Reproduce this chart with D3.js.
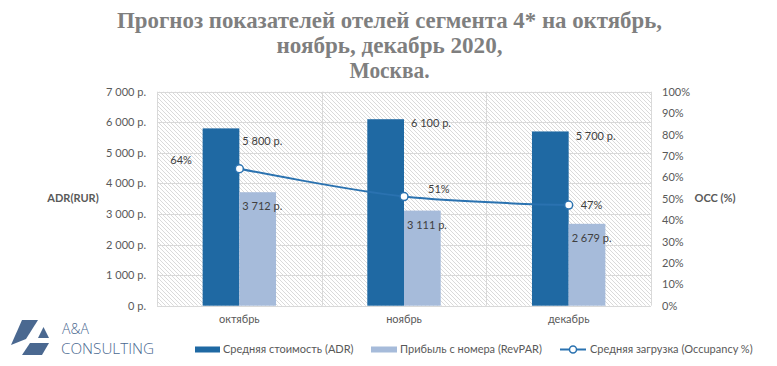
<!DOCTYPE html>
<html><head><meta charset="utf-8">
<script src="https://cdn.jsdelivr.net/npm/d3@7"></script>
<style>
html,body{margin:0;padding:0;background:#fff;}
svg text{font-family:Lato,"Open Sans",sans-serif;}
</style></head>
<body>
<svg id="chart" width="777" height="366"></svg>
<script>
const categories = ["октябрь", "ноябрь", "декабрь"];
const adrValues = [5800, 6100, 5700];
const revparValues = [3712, 3111, 2679];
const occValues = [0.64, 0.51, 0.47];
const leftTicks = [0, 1000, 2000, 3000, 4000, 5000, 6000, 7000];
const rightTicks = [0, 0.1, 0.2, 0.3, 0.4, 0.5, 0.6, 0.7, 0.8, 0.9, 1.0];
const seriesNames = ["Средняя стоимость (ADR)", "Прибыль с номера (RevPAR)", "Средняя загрузка (Occupancy %)"];
const titleLines = ["Прогноз показателей отелей сегмента 4* на октябрь,", "ноябрь, декабрь 2020,", "Москва."];

const C = {adr:"#1f69a3", rev:"#a6bbda", line:"#2a72b0", grid:"#d9d9d9", text:"#595959", title:"#7f7f7f", logo:"#4a6890"};
const plot = {l:157, r:651, t:91.7, b:305.7};

const svg = d3.select("#chart");
const defs = svg.append("defs");
const pat = defs.append("pattern").attr("id","hatch").attr("patternUnits","userSpaceOnUse")
  .attr("width",4).attr("height",4);
pat.append("path").attr("d","M0,0L4,4M-1,3L1,5M3,-1L5,1").attr("stroke","#d6d6d6").attr("stroke-width",0.9);

// Title
const titleW = [545, 226, 80];
const titleY = [28, 53, 78];
titleLines.forEach((t,i)=>{
  svg.append("text").attr("x",389.5).attr("y",titleY[i]).attr("text-anchor","middle")
    .style("font-family","'Liberation Serif','DejaVu Serif',serif").style("font-weight","bold")
    .style("font-size","24px").attr("fill",C.title)
    .attr("textLength",titleW[i]).attr("lengthAdjust","spacingAndGlyphs").text(t);
});

const x = d3.scaleBand().domain(categories).range([plot.l, plot.r]).padding(0);
const inner = d3.scaleBand().domain(["adr","rev"]).range([-36.7, 36.7]);
const y = d3.scaleLinear().domain([0,7000]).range([plot.b, plot.t]);
const y2 = d3.scaleLinear().domain([0,1]).range([plot.b, plot.t]);

// plot background
svg.append("rect").attr("x",plot.l).attr("y",plot.t).attr("width",plot.r-plot.l).attr("height",plot.b-plot.t).attr("fill","url(#hatch)");

// gridlines
svg.append("g").selectAll("line").data(leftTicks).join("line")
  .attr("x1",plot.l).attr("x2",plot.r).attr("y1",d=>Math.round(y(d))+0.5).attr("y2",d=>Math.round(y(d))+0.5)
  .attr("stroke",C.grid).attr("stroke-width",1);
const vb = categories.map(c=>x(c)).concat([plot.r]);
svg.append("g").selectAll("line").data(vb).join("line")
  .attr("x1",d=>Math.round(d)+0.5).attr("x2",d=>Math.round(d)+0.5).attr("y1",plot.t).attr("y2",plot.b)
  .attr("stroke",C.grid).attr("stroke-width",1);

// axes (labels only)
const fmtR = v => d3.format(",")(v).replace(/,/g," ") + " р.";
const leftAxis = d3.axisLeft(y).tickValues(leftTicks).tickFormat(fmtR).tickSize(0).tickPadding(11);
const gL = svg.append("g").attr("transform",`translate(${plot.l},0)`).call(leftAxis);
gL.select(".domain").remove();
gL.selectAll("text").attr("fill",C.text).style("font-size","11px").style("font-family","Lato,sans-serif");

const rightAxis = d3.axisRight(y2).tickValues(rightTicks).tickFormat(d3.format(".0%")).tickSize(0).tickPadding(11);
const gR = svg.append("g").attr("transform",`translate(${plot.r},0)`).call(rightAxis);
gR.select(".domain").remove();
gR.selectAll("text").attr("fill",C.text).style("font-size","11px").style("font-family","Lato,sans-serif");

const bottomAxis = d3.axisBottom(x).tickSize(0).tickPadding(10);
const gB = svg.append("g").attr("transform",`translate(0,${plot.b})`).call(bottomAxis);
gB.select(".domain").remove();
gB.selectAll("text").attr("fill",C.text).style("font-size","11px").style("font-family","Lato,sans-serif");

// axis titles
svg.append("text").attr("x",73).attr("y",202).attr("text-anchor","middle").attr("fill",C.text)
  .style("font-size","11px").style("font-weight","bold").text("ADR(RUR)");
svg.append("text").attr("x",715).attr("y",202).attr("text-anchor","middle").attr("fill",C.text)
  .style("font-size","11px").style("font-weight","bold").text("OCC (%)");

// bars
const bw = inner.bandwidth();
const cx = c => x(c) + x.bandwidth()/2;
svg.append("g").selectAll("rect").data(categories).join("rect")
  .attr("x",(c)=>cx(c)+inner("adr")).attr("width",bw)
  .attr("y",(c,i)=>y(adrValues[i])).attr("height",(c,i)=>plot.b-y(adrValues[i])).attr("fill",C.adr);
svg.append("g").selectAll("rect").data(categories).join("rect")
  .attr("x",(c)=>cx(c)+inner("rev")).attr("width",bw)
  .attr("y",(c,i)=>y(revparValues[i])).attr("height",(c,i)=>plot.b-y(revparValues[i])).attr("fill",C.rev);

// bar labels
const adrLabelOff = [[3,17],[7,8],[7,9]];
svg.append("g").selectAll("text").data(categories).join("text")
  .attr("x",(c,i)=>cx(c)+adrLabelOff[i][0]).attr("y",(c,i)=>y(adrValues[i])+adrLabelOff[i][1])
  .attr("fill","#404040").style("font-size","11px").text((c,i)=>fmtR(adrValues[i]));
svg.append("g").selectAll("text").data(categories).join("text")
  .attr("x",(c,i)=>cx(c)+3).attr("y",(c,i)=>y(revparValues[i])+18)
  .attr("fill","#404040").style("font-size","11px").text((c,i)=>fmtR(revparValues[i]));

// line
const pts = categories.map((c,i)=>[cx(c), y2(occValues[i])]);
svg.append("path").datum(pts).attr("d",d3.line().curve(d3.curveCatmullRom.alpha(0)))
  .attr("fill","none").attr("stroke",C.line).attr("stroke-width",2);
svg.append("g").selectAll("circle").data(pts).join("circle")
  .attr("cx",d=>d[0]).attr("cy",d=>d[1]).attr("r",4)
  .attr("fill","#fff").attr("stroke",C.line).attr("stroke-width",1.5);
const occOff = [[-69,-5],[24,-4],[12,4]];
svg.append("g").selectAll("text").data(pts).join("text")
  .attr("x",(d,i)=>d[0]+occOff[i][0]).attr("y",(d,i)=>d[1]+occOff[i][1])
  .attr("fill","#404040").style("font-size","11px").text((d,i)=>d3.format(".0%")(occValues[i]));

// legend
const lg = svg.append("g").style("font-size","11px");
lg.append("rect").attr("x",195).attr("y",346.5).attr("width",25).attr("height",6).attr("fill",C.adr);
lg.append("text").attr("x",223).attr("y",353).attr("fill",C.text).text(seriesNames[0]);
lg.append("rect").attr("x",371).attr("y",346.5).attr("width",26).attr("height",6).attr("fill",C.rev);
lg.append("text").attr("x",400).attr("y",353).attr("fill",C.text).text(seriesNames[1]);
lg.append("line").attr("x1",560).attr("x2",586).attr("y1",349.5).attr("y2",349.5).attr("stroke",C.line).attr("stroke-width",2);
lg.append("circle").attr("cx",573).attr("cy",349.5).attr("r",3.5).attr("fill","#fff").attr("stroke",C.line).attr("stroke-width",1.5);
lg.append("text").attr("x",590).attr("y",353).attr("fill",C.text).text(seriesNames[2]);

// logo
const logo = svg.append("g").attr("fill",C.logo);
logo.append("path").attr("d","M22,320 L38,320 L26,339 L11,345 Z");
logo.append("path").attr("d","M30,343 L49,343 L42,355 L22,355 Z");
logo.append("path").attr("d","M43.5,327 L49,338 L38,338 Z");
svg.append("text").attr("x",62).attr("y",334).attr("fill",C.logo).style("font-size","14px").style("font-family","'Open Sans',sans-serif").style("font-weight","300").text("A&A");
svg.append("text").attr("x",61).attr("y",354).attr("fill",C.logo).style("font-size","14px").style("font-family","'Open Sans',sans-serif").style("font-weight","300")
  .attr("textLength",93).attr("lengthAdjust","spacingAndGlyphs").text("CONSULTING");
</script>
</body></html>
